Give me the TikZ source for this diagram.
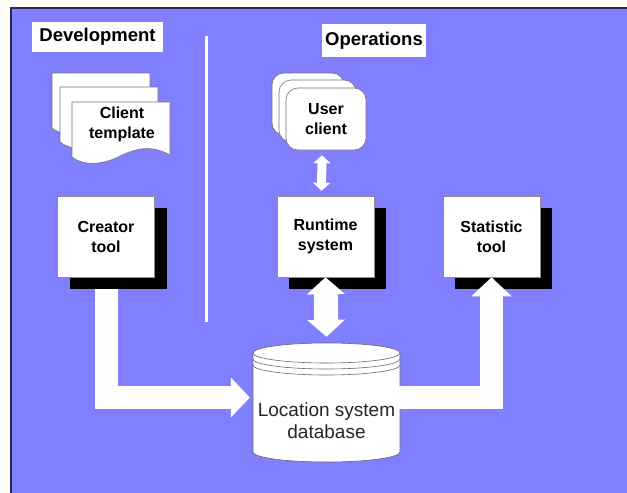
\documentclass[tikz,border=0pt]{standalone}
\usepackage{fontspec}
\setmainfont{Liberation Sans}
\usetikzlibrary{arrows.meta,calc,shadows}
\definecolor{bgblue}{RGB}{128,128,255}
\definecolor{marginc}{RGB}{255,254,246}
\definecolor{frameline}{RGB}{40,40,80}
\begin{document}
\begin{tikzpicture}[x=1pt,y=-1pt,
  boxtext/.style={font=\fontsize{16}{20}\selectfont\bfseries, align=center},
  toolbox/.style={boxtext, fill=white, draw=black!45, line width=0.5pt,
    minimum width=97pt, minimum height=81pt, inner sep=0pt,
    drop shadow={shadow xshift=12pt, shadow yshift=-12pt, fill=black, opacity=1}},
  header/.style={fill=white, inner sep=0pt, font=\fontsize{18.5}{22}\selectfont\bfseries},
  sheet/.style={fill=white, draw=black!55, line width=0.6pt},
  ucsheet/.style={sheet, rounded corners=12pt},
  dbline/.style={draw=black!60, line width=0.6pt},
  fatarrow/.style={draw=white, line width=23pt, -{Triangle[length=19pt,width=39pt]}},
  dblarrow/.style={draw=white, line width=24pt, {Triangle[length=17pt,width=37pt]}-{Triangle[length=17pt,width=37pt]}},
  smallarrow/.style={draw=white, line width=9pt, {Triangle[length=8pt,width=17pt]}-{Triangle[length=8pt,width=17pt]}}
]
\useasboundingbox (0,0) rectangle (627,493);
% background
\fill[marginc] (-5,-5) rectangle (640,505);
\fill[bgblue] (11,8) rectangle (640,505);
\draw[frameline, line width=1.2pt] (11,505) -- (11,8) -- (640,8);

% headers
\node[header, minimum width=131pt, minimum height=30pt] (dev) at (97.5,37) {Development};
\node[header, minimum width=104pt, minimum height=33pt] (ops) at (374,40.5) {Operations};

% separator
\draw[white, line width=3pt] (206,36) -- (206,322);

% client template stack
\begin{scope}[shift={(-20,-29)}]
  \filldraw[sheet] (72,102) -- (170,102) -- (170,155) .. controls (150,144) and (135,149) .. (120,156) .. controls (105,164) and (85,167) .. (72,157) -- cycle;
\end{scope}
\begin{scope}[shift={(-12,-15)}]
  \filldraw[sheet] (72,102) -- (170,102) -- (170,155) .. controls (150,144) and (135,149) .. (120,156) .. controls (105,164) and (85,167) .. (72,157) -- cycle;
\end{scope}
\filldraw[sheet] (72,102) -- (170,102) -- (170,155) .. controls (150,144) and (135,149) .. (120,156) .. controls (105,164) and (85,167) .. (72,157) -- cycle;
\node[boxtext] (tmpl) at (122,124.5) {Client\\template};

% user client stack
\filldraw[ucsheet] (272,73) rectangle (344,135);
\filldraw[ucsheet] (279,80) rectangle (356,142);
\node[boxtext, ucsheet, minimum width=80pt, minimum height=62pt, inner sep=0pt] (user) at (326,119) {User\\client};

% tool boxes
\node[toolbox] (creator) at (106,236.5) {Creator\\tool};
\node[toolbox] (runtime) at (325.5,236.5) {Runtime\\system};
\node[toolbox] (stat) at (491.5,236.5) {Statistic\\tool};

% database cylinder
\node[minimum width=147pt, minimum height=119pt, inner sep=0pt] (db) at (326.5,402.5) {};
\fill[white] (253,353) -- (253,452) arc[start angle=180,end angle=360,x radius=73.5pt,y radius=10pt] -- (400,353) -- cycle;
\draw[dbline] (253,353) -- (253,452) arc[start angle=180,end angle=360,x radius=73.5pt,y radius=10pt] -- (400,353);
\filldraw[fill=white, dbline] (326.5,353) ellipse [x radius=73.5pt, y radius=10pt];
\draw[dbline] (253,359) arc[start angle=180,end angle=360,x radius=73.5pt,y radius=10pt];
\draw[dbline] (253,365) arc[start angle=180,end angle=360,x radius=73.5pt,y radius=10pt];
\node[font=\fontsize{19}{22}\selectfont, align=center, text=black!85] (dblabel) at (326.5,421) {Location system\\database};

% connectors
\draw[fatarrow] ($(creator.south)+(0,12)$) |- ($(db.west)+(-3,-5)$);
\draw[fatarrow] ($(db.east)+(-2,-5)$) -| (stat.south);
\draw[dblarrow] (runtime.south) -- ($(db.north)+(0,-6)$);
\draw[smallarrow] ($(user.south)+(-4,5)$) -- ($(runtime.north)+(-4,-5)$);
\end{tikzpicture}
\end{document}
